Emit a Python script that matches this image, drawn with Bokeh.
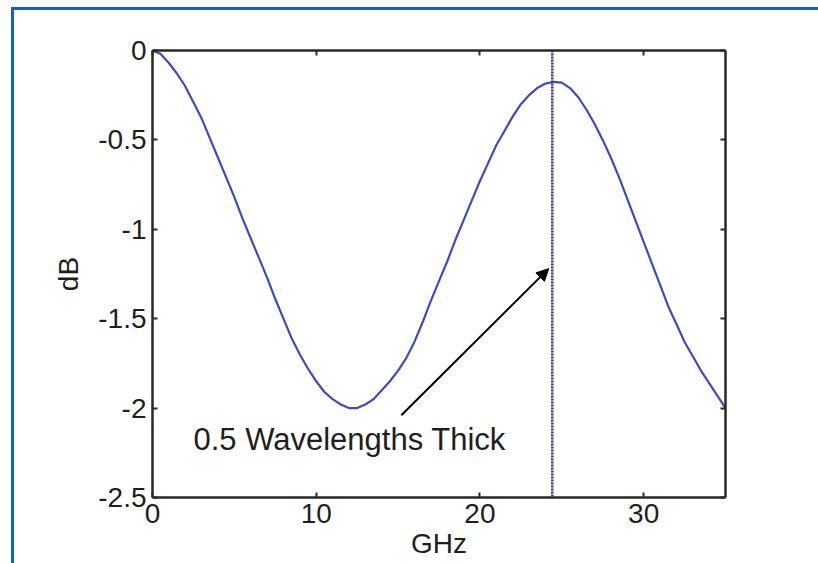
from bokeh.plotting import figure
from bokeh.models import (LinearAxis, FixedTicker, Span, Arrow, NormalHead, Label,
                          Range1d, InlineStyleSheet)
from bokeh.embed import file_html
from bokeh.resources import INLINE

# ---- data ----
ghz = [0, 0.5, 1, 1.5, 2, 2.5, 3, 3.5, 4, 4.5, 5, 5.5, 6, 6.5, 7, 7.5, 8, 8.5, 9, 9.5,
       10, 10.5, 11, 11.5, 12, 12.5, 13, 13.5, 14, 14.5, 15, 15.5, 16, 16.5, 17, 17.5,
       18, 18.5, 19, 19.5, 20, 20.5, 21, 21.5, 22, 22.5, 23, 23.5, 24, 24.5, 25, 25.5,
       26, 26.5, 27, 27.5, 28, 28.5, 29, 29.5, 30, 30.5, 31, 31.5, 32, 32.5, 33, 33.5,
       34, 34.5, 35]
db = [0.0, -0.02, -0.07, -0.13, -0.20, -0.29, -0.38, -0.49, -0.60, -0.71,
      -0.82, -0.94, -1.05, -1.16, -1.27, -1.39, -1.50, -1.61, -1.70, -1.78,
      -1.85, -1.91, -1.95, -1.98, -2.00, -2.00, -1.98, -1.95, -1.90, -1.85,
      -1.79, -1.72, -1.63, -1.52, -1.40, -1.29, -1.18, -1.06, -0.95, -0.84,
      -0.73, -0.63, -0.53, -0.45, -0.37, -0.30, -0.25, -0.21, -0.185, -0.175,
      -0.18, -0.21, -0.26, -0.33, -0.41, -0.50, -0.60, -0.71, -0.83, -0.95,
      -1.07, -1.19, -1.31, -1.43, -1.53, -1.63, -1.71, -1.79, -1.86, -1.93,
      -2.00]

x_ticks = [0, 10, 20, 30]
x_tick_labels = ["0", "10", "20", "30"]
y_ticks = [-2.5, -2, -1.5, -1, -0.5, 0]
y_tick_labels = ["-2.5", "-2", "-1.5", "-1", "-0.5", "0"]

thick_ghz = 24.42
annot_text = "0.5 Wavelengths Thick"
annot_x, annot_y = 2.5, -2.175
arrow_start = (15.2, -2.04)
arrow_end = (24.2, -1.22)

FONT = "Liberation Sans"
AX_COLOR = "#2b2925"
TXT = "#1e1e1e"

p = figure(width=818, height=563, output_backend="svg", toolbar_location=None,
           x_range=Range1d(0, 35), y_range=Range1d(-2.5, 0),
           min_border_left=152, min_border_right=93, min_border_top=50,
           min_border_bottom=66, x_axis_location=None, y_axis_location=None)
p.outline_line_color = None
p.grid.visible = False
p.background_fill_color = "white"
p.border_fill_color = "white"

# blue page frame (left and top edges), drawn as an overlay
p.stylesheets = [InlineStyleSheet(css="""
:host { position: relative; }
:host::after {
  content: ""; position: absolute; left: 11px; top: 7px; right: 0; bottom: 0;
  border-left: 3px solid #1560bd; border-top: 3px solid #1560bd;
  pointer-events: none; z-index: 10;
}
""")]


def style_axis(ax, ticks, labels, show_labels=True):
    ax.ticker = FixedTicker(ticks=ticks)
    ax.axis_line_color = AX_COLOR
    ax.axis_line_width = 2.5
    ax.major_tick_line_color = AX_COLOR
    ax.major_tick_line_width = 2
    ax.major_tick_in = 5
    ax.major_tick_out = 0
    ax.minor_tick_line_color = None
    ax.major_label_text_font = FONT
    ax.major_label_text_color = TXT
    if show_labels:
        ax.major_label_overrides = {t: l for t, l in zip(ticks, labels)}
        ax.major_label_text_font_size = "28px"
    else:
        ax.major_label_overrides = {t: "" for t in ticks}
        ax.major_label_text_font_size = "1px"
        ax.major_label_standoff = 0


xb = LinearAxis(axis_label="GHz")
style_axis(xb, x_ticks, x_tick_labels)
xb.major_label_standoff = 6
xb.axis_label_text_font = FONT
xb.axis_label_text_font_size = "28px"
xb.axis_label_text_font_style = "normal"
xb.axis_label_text_color = TXT
xb.axis_label_standoff = 2
p.add_layout(xb, "below")

yl = LinearAxis(axis_label="dB")
style_axis(yl, y_ticks, y_tick_labels)
yl.major_label_standoff = 6
yl.axis_label_text_font = FONT
yl.axis_label_text_font_size = "28px"
yl.axis_label_text_font_style = "normal"
yl.axis_label_text_color = TXT
yl.axis_label_standoff = 11
p.add_layout(yl, "left")

xt = LinearAxis()
style_axis(xt, x_ticks, x_tick_labels, show_labels=False)
p.add_layout(xt, "above")

yr = LinearAxis()
style_axis(yr, y_ticks, y_tick_labels, show_labels=False)
p.add_layout(yr, "right")

# curve
p.line(ghz, db, line_color="#3d4db5", line_width=2.2, line_join="round")

# vertical dotted marker
p.add_layout(Span(location=thick_ghz, dimension="height", line_color="#30307a",
                  line_width=2.5, line_dash="2 1"))

# arrow + annotation
p.add_layout(Arrow(end=NormalHead(size=12, fill_color="black", line_color="black"),
                   x_start=arrow_start[0], y_start=arrow_start[1],
                   x_end=arrow_end[0], y_end=arrow_end[1],
                   line_color="black", line_width=2))
p.add_layout(Label(x=annot_x, y=annot_y, text=annot_text, text_font=FONT,
                   text_font_size="31px", text_color=TXT, text_baseline="alphabetic"))

open("out.html", "w").write(file_html(p, INLINE))
